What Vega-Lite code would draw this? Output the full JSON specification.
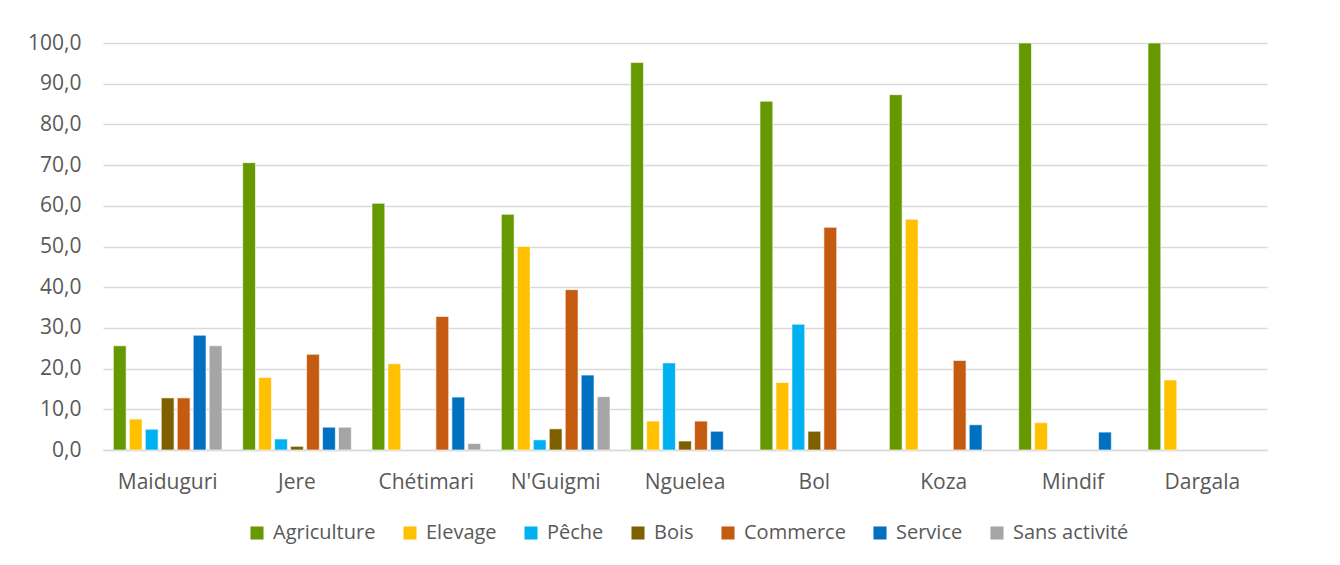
{
  "$schema": "https://vega.github.io/schema/vega-lite/v6.json",
  "width": 1164,
  "height": 407,
  "autosize": {"type": "none"},
  "padding": {"left": 103, "top": 43, "right": 73, "bottom": 115},
  "background": "white",
  "config": {
    "locale": {"number": {"decimal": ",", "thousands": " ", "grouping": [3], "currency": ["", " €"]}},
    "font": "Open Sans",
    "view": {"stroke": null}
  },
  "data": {
    "values": [
      {"zone": "Maiduguri", "activite": "Agriculture", "pct": 25.6},
      {"zone": "Maiduguri", "activite": "Elevage", "pct": 7.6},
      {"zone": "Maiduguri", "activite": "Pêche", "pct": 5.1},
      {"zone": "Maiduguri", "activite": "Bois", "pct": 12.8},
      {"zone": "Maiduguri", "activite": "Commerce", "pct": 12.8},
      {"zone": "Maiduguri", "activite": "Service", "pct": 28.2},
      {"zone": "Maiduguri", "activite": "Sans activité", "pct": 25.6},
      {"zone": "Jere", "activite": "Agriculture", "pct": 70.6},
      {"zone": "Jere", "activite": "Elevage", "pct": 17.8},
      {"zone": "Jere", "activite": "Pêche", "pct": 2.7},
      {"zone": "Jere", "activite": "Bois", "pct": 0.9},
      {"zone": "Jere", "activite": "Commerce", "pct": 23.5},
      {"zone": "Jere", "activite": "Service", "pct": 5.6},
      {"zone": "Jere", "activite": "Sans activité", "pct": 5.6},
      {"zone": "Chétimari", "activite": "Agriculture", "pct": 60.6},
      {"zone": "Chétimari", "activite": "Elevage", "pct": 21.2},
      {"zone": "Chétimari", "activite": "Commerce", "pct": 32.8},
      {"zone": "Chétimari", "activite": "Service", "pct": 13.0},
      {"zone": "Chétimari", "activite": "Sans activité", "pct": 1.6},
      {"zone": "N'Guigmi", "activite": "Agriculture", "pct": 57.9},
      {"zone": "N'Guigmi", "activite": "Elevage", "pct": 50.0},
      {"zone": "N'Guigmi", "activite": "Pêche", "pct": 2.5},
      {"zone": "N'Guigmi", "activite": "Bois", "pct": 5.2},
      {"zone": "N'Guigmi", "activite": "Commerce", "pct": 39.4},
      {"zone": "N'Guigmi", "activite": "Service", "pct": 18.4},
      {"zone": "N'Guigmi", "activite": "Sans activité", "pct": 13.1},
      {"zone": "Nguelea", "activite": "Agriculture", "pct": 95.2},
      {"zone": "Nguelea", "activite": "Elevage", "pct": 7.1},
      {"zone": "Nguelea", "activite": "Pêche", "pct": 21.4},
      {"zone": "Nguelea", "activite": "Bois", "pct": 2.2},
      {"zone": "Nguelea", "activite": "Commerce", "pct": 7.1},
      {"zone": "Nguelea", "activite": "Service", "pct": 4.6},
      {"zone": "Bol", "activite": "Agriculture", "pct": 85.7},
      {"zone": "Bol", "activite": "Elevage", "pct": 16.6},
      {"zone": "Bol", "activite": "Pêche", "pct": 30.9},
      {"zone": "Bol", "activite": "Bois", "pct": 4.6},
      {"zone": "Bol", "activite": "Commerce", "pct": 54.7},
      {"zone": "Koza", "activite": "Agriculture", "pct": 87.3},
      {"zone": "Koza", "activite": "Elevage", "pct": 56.7},
      {"zone": "Koza", "activite": "Commerce", "pct": 22.0},
      {"zone": "Koza", "activite": "Service", "pct": 6.2},
      {"zone": "Mindif", "activite": "Agriculture", "pct": 100.0},
      {"zone": "Mindif", "activite": "Elevage", "pct": 6.7},
      {"zone": "Mindif", "activite": "Service", "pct": 4.4},
      {"zone": "Dargala", "activite": "Agriculture", "pct": 100.0},
      {"zone": "Dargala", "activite": "Elevage", "pct": 17.2}
    ]
  },
  "mark": {"type": "bar", "stroke": "white", "strokeWidth": 0.6},
  "encoding": {
    "x": {
      "field": "zone",
      "type": "nominal",
      "sort": ["Maiduguri", "Jere", "Chétimari", "N'Guigmi", "Nguelea", "Bol", "Koza", "Mindif", "Dargala"],
      "scale": {"paddingInner": 0.16, "paddingOuter": 0.08},
      "axis": {
        "title": null,
        "labelAngle": 0,
        "labelFont": "Open Sans",
        "labelFontSize": 21,
        "labelColor": "#595959",
        "labelPadding": 21,
        "ticks": false,
        "domainColor": "#d9d9d9",
        "domainWidth": 1.5
      }
    },
    "xOffset": {
      "field": "activite",
      "type": "nominal",
      "scale": {"domain": ["Agriculture", "Elevage", "Pêche", "Bois", "Commerce", "Service", "Sans activité"], "paddingInner": 0.2}
    },
    "y": {
      "field": "pct",
      "type": "quantitative",
      "scale": {"domain": [0, 100], "nice": false},
      "axis": {
        "title": null,
        "format": ".1f",
        "values": [0, 10, 20, 30, 40, 50, 60, 70, 80, 90, 100],
        "labelOverlap": false,
        "labelFont": "Open Sans",
        "labelFontSize": 21,
        "labelColor": "#595959",
        "labelPadding": 22,
        "ticks": false,
        "domain": false,
        "gridColor": "#d9d9d9",
        "gridWidth": 1.5
      }
    },
    "color": {
      "field": "activite",
      "type": "nominal",
      "scale": {
        "domain": ["Agriculture", "Elevage", "Pêche", "Bois", "Commerce", "Service", "Sans activité"],
        "range": ["#669900", "#FFC000", "#00B0F0", "#7F6000", "#C55A11", "#0070C0", "#A5A5A5"]
      },
      "legend": {
        "title": null,
        "orient": "none",
        "legendX": 144,
        "legendY": 480,
        "direction": "horizontal",
        "symbolType": "square",
        "symbolSize": 170,
        "symbolStrokeWidth": 0,
        "labelFont": "Open Sans",
        "labelFontSize": 20,
        "labelColor": "#595959",
        "columnPadding": 24,
        "labelOffset": 6
      }
    }
  }
}
